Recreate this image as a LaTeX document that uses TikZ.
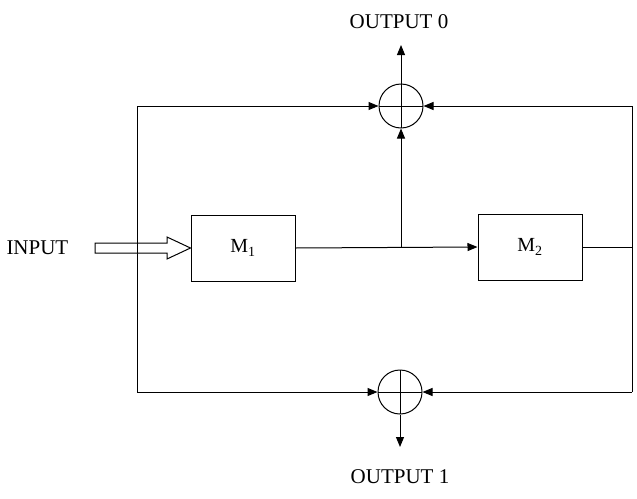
\documentclass[tikz,border=0pt]{standalone}
\usepackage{fontspec}
\setmainfont{Liberation Serif}
\usetikzlibrary{arrows.meta}
\begin{document}
\begin{tikzpicture}[x=1pt,y=-1pt,line width=1pt,
  blk/.style={draw,minimum width=104pt,minimum height=66pt,font=\fontsize{20}{22}\selectfont},
  xr/.style={draw,circle,minimum size=44pt,inner sep=0pt,path picture={\draw (path picture bounding box.north)--(path picture bounding box.south) (path picture bounding box.west)--(path picture bounding box.east);}},
  lbl/.style={font=\fontsize{21}{23}\selectfont,inner sep=0pt},
  arr/.style={-{Triangle[length=10pt,width=8pt]}}]
\useasboundingbox (0,0) rectangle (637,498);
\node[blk] (m1) at (243,248) {M\textsubscript{1}};
\node[blk] (m2) at (530,247) {M\textsubscript{2}};
\node[xr] (x0) at (401,106) {};
\node[xr] (x1) at (400,392) {};
\node[lbl] (o0) at (399,22) {OUTPUT 0};
\node[lbl] (o1) at (400,477) {OUTPUT 1};
\node[lbl,anchor=west] (in) at (6,248) {INPUT};
\coordinate (tl) at (137,106); \coordinate (bl) at (137,392);
\coordinate (tr) at (632,106); \coordinate (br) at (632,392);
\coordinate (j) at (401,247); \coordinate (r) at (632,247);
\coordinate (o0e) at (401,45); \coordinate (o1e) at (400,447);
\draw (tl)--(bl);
\draw (tr)--(br);
\draw[arr] (tl)--(x0.west);
\draw[arr] (tr)--(x0.east);
\draw[arr] (bl)--(x1.west);
\draw[arr] (br)--(x1.east);
\draw[arr] (x0.north)--(o0e);
\draw[arr] (x1.south)--(o1e);
\draw[arr] (m1.east)--(m2.west);
\draw[arr] (j)--(x0.south);
\draw (m2.east)--(r);
\draw[fill=white] (95,243)--(167,243)--(167,237)--(m1.west)--(167,259)--(167,253)--(95,253)--cycle;
\draw (137,243)--(137,253);
\end{tikzpicture}
\end{document}
